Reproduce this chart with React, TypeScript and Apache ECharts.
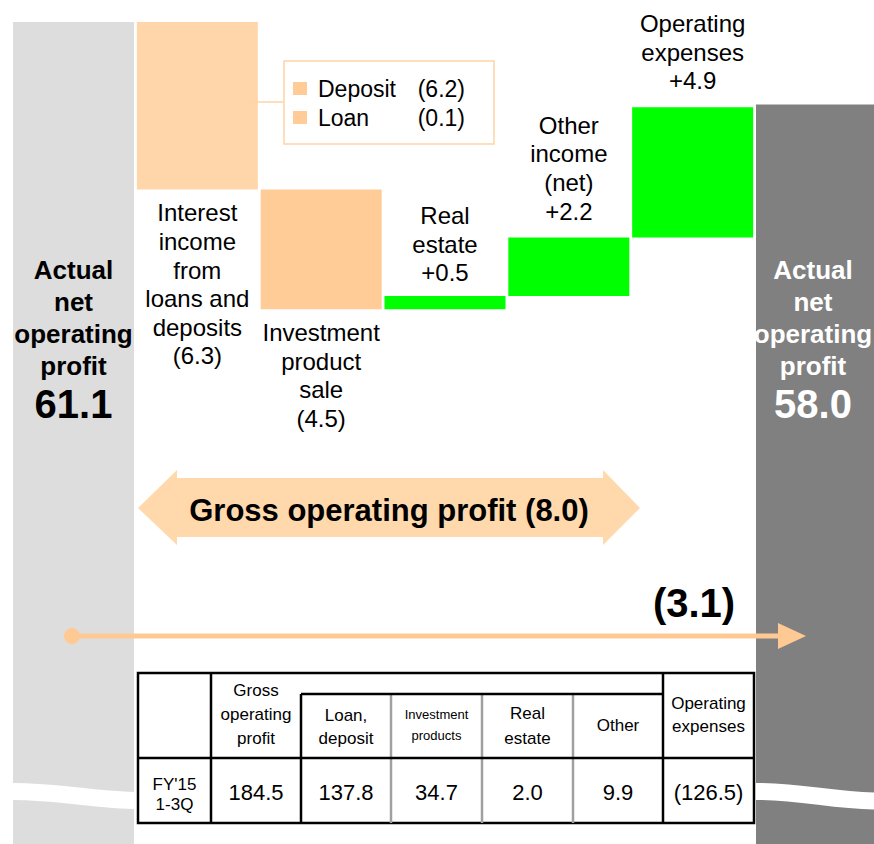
import React, { useEffect, useRef } from "react";
import * as echarts from "echarts";

// ---------- data ----------
const categories = [
  "Actual net operating profit (start)",
  "Interest income from loans and deposits",
  "Investment product sale",
  "Real estate",
  "Other income (net)",
  "Operating expenses",
  "Actual net operating profit (end)",
];
const categoryLines = [
  ["Actual", "net", "operating", "profit"],
  ["Interest", "income", "from", "loans and", "deposits"],
  ["Investment", "product", "sale"],
  ["Real", "estate"],
  ["Other", "income", "(net)"],
  ["Operating", "expenses"],
  ["Actual", "net", "operating", "profit"],
];
const startValue = 61.1;
const changes = [-6.3, -4.5, 0.5, 2.2, 4.9];
const endValue = 58.0;
const totalChange = -3.1;
const grossChange = -8.0;
const breakdownNames = ["Deposit", "Loan"];
const breakdownValues = [-6.2, -0.1];
const tableHeaders = [
  "",
  "Gross\noperating\nprofit",
  "Loan,\ndeposit",
  "Investment\nproducts",
  "Real\nestate",
  "Other",
  "Operating\nexpenses",
];
const tableRowLabel = "FY'15\n1-3Q";
const tableValues = [184.5, 137.8, 34.7, 2.0, 9.9, -126.5];

// ---------- helpers ----------
const FONT = "'Liberation Sans', Arial, Helvetica, sans-serif";
const fmtDelta = (v: number) =>
  v < 0 ? `(${Math.abs(v).toFixed(1)})` : `+${v.toFixed(1)}`;
const fmtNum = (v: number) =>
  v < 0 ? `(${Math.abs(v).toFixed(1)})` : v.toFixed(1);

const barColors = ["#DDDDDD", "#FFD6AA", "#FFCB96", "#00FF00", "#00FF00", "#00FF00", "#808080"];
const ORANGE = "#FFC993";
const LEGEND_BORDER = "#FFD3A6";
const CHART_W = 884;

function buildOption() {
  const base: number[] = [];
  const visible: any[] = [];
  const totalRich = {
    t: { fontSize: 26, fontWeight: "bold", lineHeight: 32, fontFamily: FONT },
    v: { fontSize: 40, fontWeight: "bold", lineHeight: 44, fontFamily: FONT },
  };
  const totalFormatter = (lines: string[], v: number) =>
    lines.map((l) => `{t|${l}}`).join("\n") + `\n{v|${v.toFixed(1)}}`;

  base.push(0);
  visible.push({
    value: startValue,
    itemStyle: { color: barColors[0] },
    label: {
      show: true,
      position: "insideTop",
      distance: 232,
      color: "#000",
      align: "center",
      verticalAlign: "top",
      formatter: totalFormatter(categoryLines[0], startValue),
      rich: totalRich,
    },
  });
  let level = startValue;
  const topDist = [9, 12, 12];
  let inc = 0;
  changes.forEach((d, i) => {
    const lo = d < 0 ? level + d : level;
    base.push(+lo.toFixed(2));
    const neg = d < 0;
    visible.push({
      value: Math.abs(d),
      itemStyle: { color: barColors[i + 1] },
      label: {
        show: true,
        position: neg ? "bottom" : "top",
        distance: neg ? 9 : topDist[inc++],
        color: "#000",
        fontSize: 24,
        lineHeight: 28.6,
        fontFamily: FONT,
        align: "center",
        formatter: [...categoryLines[i + 1], fmtDelta(d)].join("\n"),
      },
    });
    level += d;
  });
  base.push(0);
  visible.push({
    value: endValue,
    itemStyle: { color: barColors[6] },
    label: {
      show: true,
      position: "insideTop",
      distance: 149.5,
      offset: [-3.5, 0],
      color: "#fff",
      align: "center",
      verticalAlign: "top",
      formatter: totalFormatter(categoryLines[6], endValue),
      rich: totalRich,
    },
  });

  // ---- table graphic ----
  const colX = [138, 211, 301, 391, 482, 573, 663, 754];
  const rowTop = 673, rowSub = 694, rowMid = 758, rowBot = 823;
  const headerCfg = [
    null,
    { y: 714, fs: 17, lh: 24 },
    { y: 726.5, fs: 17, lh: 23 },
    { y: 725, fs: 13, lh: 21 },
    { y: 725.5, fs: 17, lh: 25 },
    { y: 725, fs: 17, lh: 23 },
    { y: 714.5, fs: 17, lh: 23 },
  ];
  const tz = 60;
  const blk = { stroke: "#000", lineWidth: 2.5 };
  const table: any[] = [
    { type: "rect", z: tz, shape: { x: colX[0], y: rowTop, width: colX[7] - colX[0], height: rowBot - rowTop }, style: { fill: "#fff", stroke: "#000", lineWidth: 2.5 } },
    { type: "line", z: tz + 1, shape: { x1: colX[0], y1: rowMid, x2: colX[7], y2: rowMid }, style: blk },
    { type: "line", z: tz + 1, shape: { x1: colX[2], y1: rowSub, x2: colX[6], y2: rowSub }, style: blk },
    { type: "line", z: tz + 1, shape: { x1: colX[1], y1: rowTop, x2: colX[1], y2: rowBot }, style: blk },
    { type: "line", z: tz + 1, shape: { x1: colX[2], y1: rowSub, x2: colX[2], y2: rowBot }, style: blk },
    { type: "line", z: tz + 1, shape: { x1: colX[6], y1: rowTop, x2: colX[6], y2: rowBot }, style: blk },
  ];
  [3, 4, 5].forEach((c) =>
    table.push({ type: "line", z: tz, shape: { x1: colX[c], y1: rowSub, x2: colX[c], y2: rowBot }, style: { stroke: "#A0A0A0", lineWidth: 2.5 } })
  );
  tableHeaders.forEach((h, i) => {
    const cfg = headerCfg[i];
    if (!h || !cfg) return;
    table.push({
      type: "text", z: tz + 2,
      x: (colX[i] + colX[i + 1]) / 2, y: cfg.y,
      style: { text: h, fontSize: cfg.fs, lineHeight: cfg.lh, fontFamily: FONT, fill: "#000", textAlign: "center", textVerticalAlign: "middle" },
    });
  });
  table.push({
    type: "text", z: tz + 2,
    x: (colX[0] + colX[1]) / 2, y: 794,
    style: { text: tableRowLabel, fontSize: 17, lineHeight: 20, fontFamily: FONT, fill: "#000", textAlign: "center", textVerticalAlign: "middle" },
  });
  tableValues.forEach((v, i) => {
    table.push({
      type: "text", z: tz + 2,
      x: (colX[i + 1] + colX[i + 2]) / 2, y: 792,
      style: { text: fmtNum(v), fontSize: 22, fontFamily: FONT, fill: "#000", textAlign: "center", textVerticalAlign: "middle" },
    });
  });

  const gz = 100;
  const graphics: any[] = [
    // wave breaks over the total bars
    { type: "bezierCurve", z: 50, shape: { x1: 6, y1: 791.5, cpx1: 55, cpy1: 790, cpx2: 95, cpy2: 801, x2: 142, y2: 800.5 }, style: { stroke: "#fff", lineWidth: 17, fill: null } },
    { type: "bezierCurve", z: 50, shape: { x1: 748, y1: 791.5, cpx1: 800, cpy1: 790, cpx2: 835, cpy2: 802, x2: 884, y2: 801 }, style: { stroke: "#fff", lineWidth: 17, fill: null } },
    ...table,
    // breakdown legend
    { type: "line", z: gz, shape: { x1: 244, y1: 102, x2: 284, y2: 102 }, style: { stroke: LEGEND_BORDER, lineWidth: 1.5 } },
    { type: "rect", z: gz, shape: { x: 284, y: 61, width: 210, height: 83 }, style: { fill: "#fff", stroke: LEGEND_BORDER, lineWidth: 1.5 } },
    // gross operating profit double arrow
    {
      type: "polygon", z: gz,
      shape: { points: [[138, 508], [177, 470], [177, 478], [603, 478], [603, 470], [640, 508], [603, 545], [603, 537], [177, 537], [177, 545]] },
      style: { fill: "#FFD8AC" },
    },
    { type: "text", z: gz + 1, x: 389, y: 510, style: { text: `Gross operating profit ${fmtNum(grossChange)}`, fontSize: 31, fontWeight: "bold", fontFamily: FONT, fill: "#000", textAlign: "center", textVerticalAlign: "middle" } },
    // total change arrow
    { type: "line", z: gz, shape: { x1: 72, y1: 636, x2: 780, y2: 636 }, style: { stroke: ORANGE, lineWidth: 5 } },
    { type: "polygon", z: gz, shape: { points: [[778, 623], [806, 636], [778, 649]] }, style: { fill: ORANGE } },
    { type: "circle", z: gz, shape: { cx: 72, cy: 636, r: 8 }, style: { fill: ORANGE } },
    { type: "text", z: gz, x: 694, y: 603, style: { text: fmtNum(totalChange), fontSize: 40, fontWeight: "bold", fontFamily: FONT, fill: "#000", textAlign: "center", textVerticalAlign: "middle" } },
  ];
  breakdownNames.forEach((n, i) => {
    const cy = 89 + i * 29;
    graphics.push(
      { type: "rect", z: gz + 1, shape: { x: 293, y: cy - 7, width: 14, height: 13 }, style: { fill: "#FFCB96" } },
      { type: "text", z: gz + 1, x: 318, y: cy, style: { text: n, fontSize: 23, fontFamily: FONT, fill: "#000", textAlign: "left", textVerticalAlign: "middle" } },
      { type: "text", z: gz + 1, x: 465, y: cy, style: { text: fmtNum(breakdownValues[i]), fontSize: 23, fontFamily: FONT, fill: "#000", textAlign: "right", textVerticalAlign: "middle" } }
    );
  });

  return {
    animation: false,
    backgroundColor: "#fff",
    textStyle: { fontFamily: FONT },
    grid: { left: 11.6, right: CHART_W - 878.4, top: 22, bottom: 0, containLabel: false },
    xAxis: { type: "category", data: categories, show: false },
    yAxis: { type: "value", min: 30.2, max: startValue, show: false },
    series: [
      { type: "bar", name: "base", stack: "w", data: base, barWidth: 121, itemStyle: { color: "transparent" }, silent: true },
      { type: "bar", name: "value", stack: "w", data: visible, barWidth: 121 },
    ],
    graphic: { elements: graphics },
  };
}

export default function App() {
  const ref = useRef<HTMLDivElement>(null);
  useEffect(() => {
    if (!ref.current) return;
    const chart = echarts.init(ref.current, undefined, { renderer: "svg" });
    chart.setOption(buildOption() as any);
    return () => chart.dispose();
  }, []);
  return (
    <div
      style={{ position: "absolute", left: 0, top: 0, width: 874, height: 844, overflow: "hidden", background: "#fff" }}
    >
      <div ref={ref} style={{ width: CHART_W, height: 844 }} />
    </div>
  );
}
